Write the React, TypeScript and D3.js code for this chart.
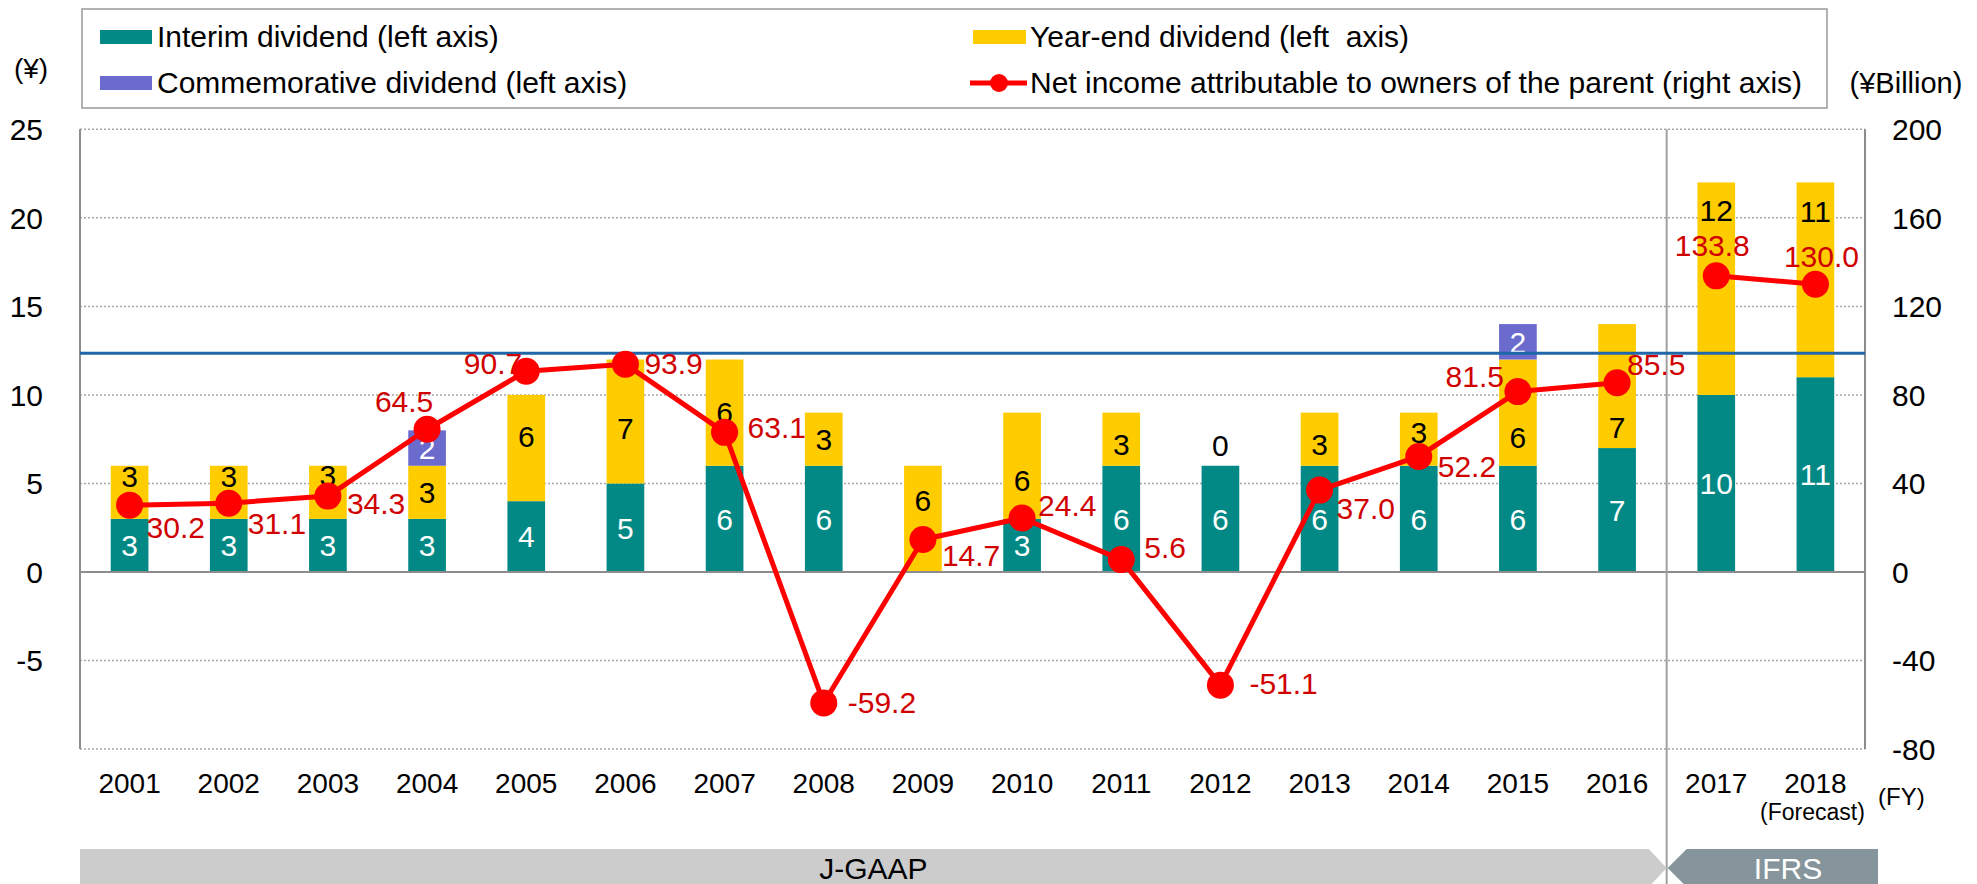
import React from 'react';
import * as d3 from 'd3';

// ---------------- DATA ----------------
const years = ['2001', '2002', '2003', '2004', '2005', '2006', '2007', '2008', '2009', '2010', '2011', '2012', '2013', '2014', '2015', '2016', '2017', '2018'];
const interimDividend = [3, 3, 3, 3, 4, 5, 6, 6, 0, 3, 6, 6, 6, 6, 6, 7, 10, 11];
const yearEndDividend = [3, 3, 3, 3, 6, 7, 6, 3, 6, 6, 3, 0, 3, 3, 6, 7, 12, 11];
const commemorativeDividend = [0, 0, 0, 2, 0, 0, 0, 0, 0, 0, 0, 0, 0, 0, 2, 0, 0, 0];
const netIncome = [30.2, 31.1, 34.3, 64.5, 90.7, 93.9, 63.1, -59.2, 14.7, 24.4, 5.6, -51.1, 37.0, 52.2, 81.5, 85.5, 133.8, 130.0];
const leftTicks = [25, 20, 15, 10, 5, 0, -5];
const rightTicks = [200, 160, 120, 80, 40, 0, -40, -80];
const leftDomain = [-10, 25];
const rightDomain = [-80, 200];
const referenceLine = 12.35;
const ifrsFirstYear = '2017';
const legendLabels = [
  'Interim dividend (left axis)',
  'Year-end dividend (left  axis)',
  'Commemorative dividend (left axis)',
  'Net income attributable to owners of the parent (right axis)',
];

// ---------------- STYLE / LAYOUT ----------------
const W = 1977;
const H = 884;
const PL = 80, PR = 1865, PT = 129.3, PB = 749.1;
const FONT = '"Liberation Sans", Arial, Helvetica, sans-serif';
const C_TEAL = '#028985';
const C_YELLOW = '#FFCC00';
const C_PURPLE = '#6B6BCE';
const C_RED = '#FF0000';
const C_LABEL_RED = '#D00000';
const C_BLUE = '#1F67A8';

// yearEnd label shift in px (positive = down)
const yeShift: Record<string, number> = {
  '2001': -16, '2002': -16, '2003': -17, '2005': -12, '2006': 7, '2009': -19, '2010': 14,
  '2011': 5, '2012': -21, '2013': 5, '2014': -7, '2015': 25, '2016': 41, '2017': -78, '2018': -69,
};
// net income label placement: [dx, dy, anchor]
const niLabel: Record<string, [number, number, string]> = {
  '2001': [17, 22, 'start'], '2002': [19, 20, 'start'], '2003': [19, 7, 'start'],
  '2004': [-23, -28, 'middle'], '2005': [-4, -8, 'end'], '2006': [19, -1, 'start'],
  '2007': [23, -5, 'start'], '2008': [24, -1, 'start'], '2009': [19, 16, 'start'],
  '2010': [16, -13, 'start'], '2011': [23, -12, 'start'], '2012': [29, -2, 'start'],
  '2013': [17, 18, 'start'], '2014': [19, 10, 'start'], '2015': [-14, -15, 'end'],
  '2016': [10, -19, 'start'], '2017': [-4, -31, 'middle'], '2018': [6, -28, 'middle'],
};

export default function App() {
  const x = d3.scaleBand<string>().domain(years).range([PL, PR]).paddingInner(0.62).paddingOuter(0.31);
  const yL = d3.scaleLinear().domain(leftDomain).range([PB, PT]);
  const yR = d3.scaleLinear().domain(rightDomain).range([PB, PT]);
  const step = x.step();
  const cx = (yr: string) => (x(yr) as number) + x.bandwidth() / 2;

  const rows = years.map((yr, i) => ({
    year: yr,
    interim: interimDividend[i],
    yearEnd: yearEndDividend[i],
    commemorative: commemorativeDividend[i],
  }));
  const keys = ['interim', 'yearEnd', 'commemorative'];
  const colors: Record<string, string> = { interim: C_TEAL, yearEnd: C_YELLOW, commemorative: C_PURPLE };
  const labelColors: Record<string, string> = { interim: '#FFFFFF', yearEnd: '#000000', commemorative: '#FFFFFF' };
  const series = d3.stack<any>().keys(keys)(rows);

  const ifrsIdx = years.indexOf(ifrsFirstYear);
  const divX = PL + ifrsIdx * step;
  const pts = years.map((yr, i) => ({ yr, v: netIncome[i], i }));
  const line = d3.line<any>().x((d) => cx(d.yr)).y((d) => yR(d.v));
  const seg1 = pts.filter((d) => d.i < ifrsIdx);
  const seg2 = pts.filter((d) => d.i >= ifrsIdx);

  const gridVals = leftTicks.filter((t) => t !== 0);

  return (
    <svg width={W} height={H} style={{ position: 'absolute', left: 0, top: 0, background: '#fff' }} fontFamily={FONT}>
      <rect x={0} y={0} width={W} height={H} fill="#fff" />
      {/* Legend */}
      <rect x={82} y={9} width={1745} height={99} fill="#fff" stroke="#999" strokeWidth={1.5} />
      <rect x={100} y={30} width={52} height={14} fill={C_TEAL} />
      <text x={157} y={36} dy="0.36em" fontSize={30}>{legendLabels[0]}</text>
      <rect x={973} y={30} width={53} height={14} fill={C_YELLOW} />
      <text x={1030} y={36} dy="0.36em" fontSize={30} style={{ whiteSpace: 'pre' }}>{legendLabels[1]}</text>
      <rect x={100} y={76} width={52} height={14} fill={C_PURPLE} />
      <text x={157} y={82} dy="0.36em" fontSize={30}>{legendLabels[2]}</text>
      <line x1={970} x2={1027} y1={83} y2={83} stroke={C_RED} strokeWidth={5} />
      <circle cx={999} cy={83} r={9} fill={C_RED} />
      <text x={1030} y={82} dy="0.36em" fontSize={30}>{legendLabels[3]}</text>

      {/* unit labels */}
      <text x={31} y={68} dy="0.36em" fontSize={28} textAnchor="middle">(¥)</text>
      <text x={1906} y={83} dy="0.36em" fontSize={29} textAnchor="middle">(¥Billion)</text>

      {/* gridlines */}
      {gridVals.map((t) => (
        <line key={t} x1={PL} x2={PR} y1={yL(t)} y2={yL(t)} stroke="#A6A6A6" strokeWidth={1.5} strokeDasharray="2,2" />
      ))}
      <line x1={PL} x2={PR} y1={PB} y2={PB} stroke="#A6A6A6" strokeWidth={1.5} strokeDasharray="2,2" />

      {/* bars */}
      {series.map((s) => (
        <g key={s.key}>
          {s.map((d: any, i: number) => {
            const h = yL(d[0]) - yL(d[1]);
            if (h <= 0) return null;
            return (
              <rect key={i} x={x(years[i])} y={yL(d[1])} width={x.bandwidth()} height={h} fill={colors[s.key]} />
            );
          })}
        </g>
      ))}

      {/* axes lines */}
      <line x1={PL} x2={PL} y1={PT} y2={PB} stroke="#8C8C8C" strokeWidth={2} />
      <line x1={PR} x2={PR} y1={PT} y2={PB} stroke="#8C8C8C" strokeWidth={2} />
      <line x1={PL} x2={PR} y1={yL(0)} y2={yL(0)} stroke="#8C8C8C" strokeWidth={2} />
      <line x1={divX} x2={divX} y1={PT} y2={H} stroke="#A0A0A0" strokeWidth={2} />

      {/* bar labels */}
      {series.map((s) => (
        <g key={'l' + s.key}>
          {s.map((d: any, i: number) => {
            const v = d[1] - d[0];
            const yr = years[i];
            const showZero = s.key === 'yearEnd' && v === 0 && interimDividend[i] > 0;
            if (v <= 0 && !showZero) return null;
            let yc = yL((d[0] + d[1]) / 2);
            if (s.key === 'yearEnd' && yeShift[yr] !== undefined) yc += yeShift[yr];
            return (
              <text key={i} x={cx(yr)} y={yc} dy="0.36em" textAnchor="middle" fontSize={30}
                fill={showZero ? '#000' : labelColors[s.key]}>{v}</text>
            );
          })}
        </g>
      ))}

      {/* reference line */}
      <line x1={PL} x2={PR} y1={yL(referenceLine)} y2={yL(referenceLine)} stroke={C_BLUE} strokeWidth={3} />

      {/* net income labels */}
      {pts.map((d) => {
        const [dx, dy, anchor] = niLabel[d.yr];
        return (
          <text key={'ni' + d.yr} x={cx(d.yr) + dx} y={yR(d.v) + dy} dy="0.36em" textAnchor={anchor as any}
            fontSize={30} fill={C_LABEL_RED}>{d.v.toFixed(1)}</text>
        );
      })}

      {/* net income line */}
      <path d={line(seg1) as string} fill="none" stroke={C_RED} strokeWidth={5} strokeLinejoin="round" />
      <path d={line(seg2) as string} fill="none" stroke={C_RED} strokeWidth={5} strokeLinejoin="round" />
      {pts.map((d) => (
        <circle key={'m' + d.yr} cx={cx(d.yr)} cy={yR(d.v)} r={13.5} fill={C_RED} />
      ))}

      {/* left ticks */}
      {leftTicks.map((t) => (
        <text key={'lt' + t} x={43} y={yL(t)} dy="0.36em" textAnchor="end" fontSize={30}>{t}</text>
      ))}
      {/* right ticks */}
      {rightTicks.map((t) => (
        <text key={'rt' + t} x={1892} y={yR(t)} dy="0.36em" textAnchor="start" fontSize={30}>{t}</text>
      ))}
      {/* year labels */}
      {years.map((yr) => (
        <text key={'y' + yr} x={cx(yr)} y={783} dy="0.36em" textAnchor="middle" fontSize={28}>{yr}</text>
      ))}
      <text x={cx(years[years.length - 1]) - 3} y={812} dy="0.36em" textAnchor="middle" fontSize={23}>(Forecast)</text>
      <text x={1878} y={796} dy="0.36em" textAnchor="start" fontSize={24}>(FY)</text>

      {/* accounting standard banners */}
      <polygon points={`${PL},849 ${divX - 18},849 ${divX},868 ${divX - 18},887 ${PL},887`} fill="#CCCCCC" />
      <text x={(PL + divX) / 2} y={868} dy="0.36em" textAnchor="middle" fontSize={30} fill="#000">J-GAAP</text>
      <polygon points={`${divX + 20},849 1878,849 1878,887 ${divX + 20},887 ${divX + 1},868`} fill="#85959B" />
      <text x={1788} y={868} dy="0.36em" textAnchor="middle" fontSize={30} fill="#fff">IFRS</text>
    </svg>
  );
}
